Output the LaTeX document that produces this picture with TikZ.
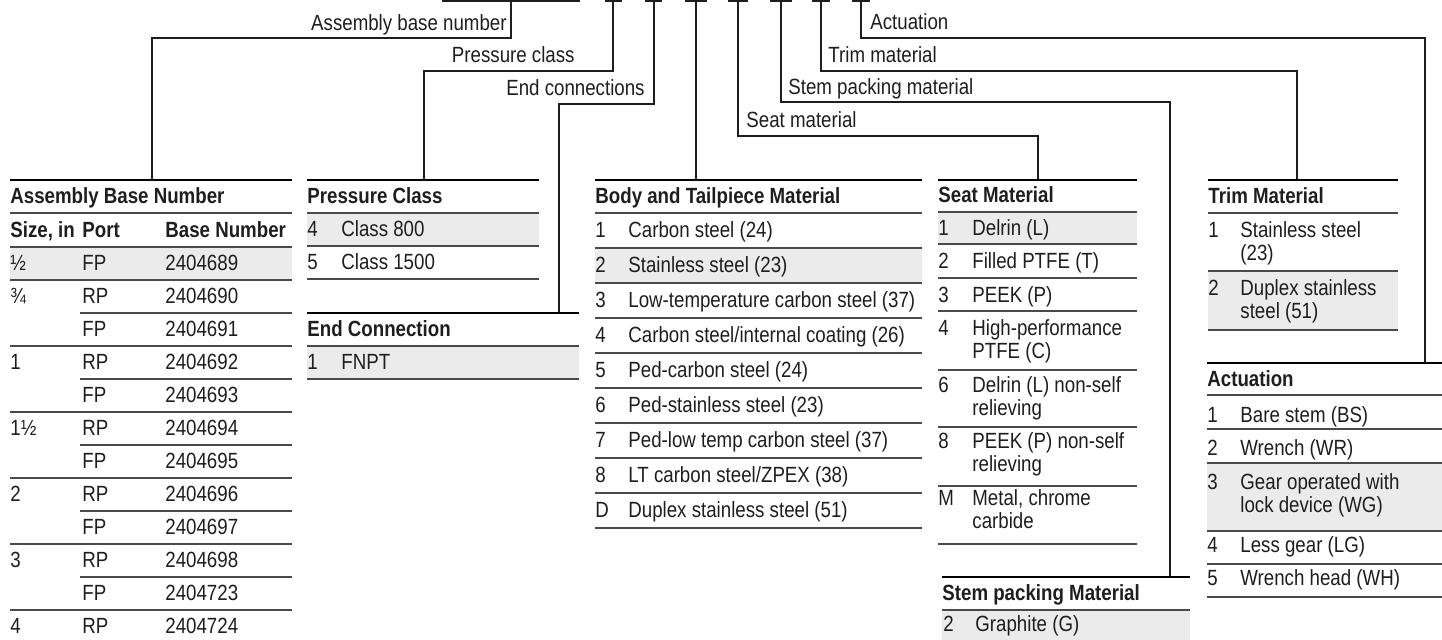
\documentclass[tikz,border=0pt]{standalone}
\usepackage{fontspec}
\setmainfont{Liberation Sans}[FakeStretch=0.85]
\usetikzlibrary{positioning}
\definecolor{rowshade}{HTML}{EBEBEB}
\definecolor{ink}{HTML}{1E1E1E}
\definecolor{rulegray}{HTML}{4A4A4A}
\tikzset{
  lead/.style={
    draw = ink,
    line width = 1pt,
  },
  toprule/.style={
    draw = black,
    line width = 1.2pt,
  },
  rowrule/.style={
    draw = rulegray,
    line width = 0.8pt,
  },
  shaded/.style={
    fill = rowshade,
  },
  every node/.style = {
    inner sep = 0pt,
    text = ink,
    font = \fontsize{11}{12}\selectfont
  },
  cell/.style={
    anchor = base west
  },
  hd/.style={
    anchor = base west,
    font = \fontsize{11}{12}\selectfont\bfseries
  },
}

\begin{document}
\begin{tikzpicture}[x=0.5pt,y=-0.5pt]
\useasboundingbox (0,0) rectangle (1442,640);

% code stubs along the top
\foreach \a/\b in {442/580,605/622,645/662,685/707,728/748,770/792,812/830,852/870}
  \draw[lead] (\a,1) -- (\b,1);
\coordinate (c-base) at (511,1);
\coordinate (c-pc) at (613,1);
\coordinate (c-ec) at (654,1);
\coordinate (c-body) at (696,1);
\coordinate (c-seat) at (738,1);
\coordinate (c-stem) at (781,1);
\coordinate (c-trim) at (821,1);
\coordinate (c-act) at (861,1);

% where the leads land on the tables
\coordinate (t-asm) at (152,180);
\coordinate (t-pc) at (424,180);
\coordinate (t-ec) at (559,313);
\coordinate (t-body) at (696,180);
\coordinate (t-seat) at (1038,180);
\coordinate (t-stem) at (1170,577);
\coordinate (t-trim) at (1297,180);
\coordinate (t-act) at (1425,363);

\draw[lead] (c-base) -- ++(0,37) -| (t-asm);
\draw[lead] (c-pc) -- ++(0,70) -| (t-pc);
\draw[lead] (c-ec) -- ++(0,103) -| (t-ec);
\draw[lead] (c-body) -- (t-body);
\draw[lead] (c-seat) -- ++(0,135) -| (t-seat);
\draw[lead] (c-stem) -- ++(0,101) -| (t-stem);
\draw[lead] (c-trim) -- ++(0,70) -| (t-trim);
\draw[lead] (c-act) -- ++(0,37) -| (t-act);

\node[anchor=base east] (l-base) at (507,31) {Assembly base number};
\node[anchor=base east] (l-pc) at (575,63) {Pressure class};
\node[anchor=base east] (l-ec) at (645,96) {End connections};
\node[anchor=base west] (l-seat) at (746,128) {Seat material};
\node[anchor=base west] (l-stem) at (788,95) {Stem packing material};
\node[anchor=base west] (l-trim) at (828,63) {Trim material};
\node[anchor=base west] (l-act) at (870,30) {Actuation};

% assembly base number
\fill[shaded] (10,247) rectangle (292,280);
\draw[toprule] (10,180) -- (292,180);
\node[hd] (asm-title) at (10,204) {Assembly Base Number};
\draw[rowrule] (10,213) -- (292,213);
\node[hd] (asm-size) at (10,238) {Size, in};
\node[hd] (asm-port) at (82,238) {Port};
\node[hd] (asm-base) at (165,238) {Base Number};
\draw[rowrule] (10,247) -- (292,247);
\foreach \y/\l in {280/10,313/80,346/10,379/80,412/10,445/80,478/10,511/80,544/10,577/80,610/10}
  \draw[rowrule] (\l,\y) -- (292,\y);
\foreach \i/\s/\p/\n in {0/½/FP/2404689,1/¾/RP/2404690,2//FP/2404691,3/1/RP/2404692,
    4//FP/2404693,5/1½/RP/2404694,6//FP/2404695,7/2/RP/2404696,8//FP/2404697,
    9/3/RP/2404698,10//FP/2404723,11/4/RP/2404724}{
  \node[cell] (asm-s\i) at (10,271+33*\i) {\s};
  \node[cell] (asm-p\i) at (82,271+33*\i) {\p};
  \node[cell] (asm-n\i) at (165,271+33*\i) {\n};
}

% pressure class and end connection
\fill[shaded] (307,213) rectangle (539,246);
\draw[toprule] (307,180) -- (539,180);
\node[hd] (pc-title) at (307,204) {Pressure Class};
\foreach \y in {213,246,279}
  \draw[rowrule] (307,\y) -- (539,\y);
\node[cell] (pc-k4) at (307,237) {4};
\node[cell] (pc-t4) at (341,237) {Class 800};
\node[cell] (pc-k5) at (307,270) {5};
\node[cell] (pc-t5) at (341,270) {Class 1500};

\fill[shaded] (307,346) rectangle (579,379);
\draw[toprule] (307,313) -- (579,313);
\node[hd] (ec-title) at (307,337) {End Connection};
\foreach \y in {346,379}
  \draw[rowrule] (307,\y) -- (579,\y);
\node[cell] (ec-k1) at (307,370) {1};
\node[cell] (ec-t1) at (341,370) {FNPT};

% body and tailpiece
\fill[shaded] (595,248) rectangle (922,283);
\draw[toprule] (595,180) -- (922,180);
\node[hd] (body-title) at (595,204) {Body and Tailpiece Material};
\foreach \i/\k/\t in {0/1/Carbon steel (24),1/2/Stainless steel (23),
    2/3/Low-temperature carbon steel (37),3/4/{Carbon steel/internal coating (26)},
    4/5/Ped-carbon steel (24),5/6/Ped-stainless steel (23),
    6/7/Ped-low temp carbon steel (37),7/8/{LT carbon steel/ZPEX (38)},
    8/D/Duplex stainless steel (51)}{
  \draw[rowrule] (595,213+35*\i) -- (922,213+35*\i);
  \node[cell] (body-k\i) at (595,238+35*\i) {\k};
  \node[cell] (body-t\i) at (628,238+35*\i) {\t};
}
\draw[rowrule] (595,528) -- (922,528);

% seat material
\fill[shaded] (938,212) rectangle (1137,244);
\draw[toprule] (938,180) -- (1137,180);
\node[hd] (seat-title) at (938,203) {Seat Material};
\foreach \y in {212,244,278,311,370,427,486,544}
  \draw[rowrule] (938,\y) -- (1137,\y);
\foreach \y/\k/\t in {236/1/Delrin (L),269/2/Filled PTFE (T),303/3/PEEK (P),
    336/4/High-performance,393/6/Delrin (L) non-self,449/8/PEEK (P) non-self,
    506/M/{Metal, chrome}}{
  \node[cell] (seat-k\k) at (938,\y) {\k};
  \node[cell] (seat-t\k) at (972,\y) {\t};
}
\foreach \y/\k/\t in {359/4/PTFE (C),416/6/relieving,472/8/relieving,529/M/carbide}
  \node[cell] (seat-u\k) at (972,\y) {\t};

% stem packing
\fill[shaded] (942,610) rectangle (1190,643);
\draw[toprule] (942,577) -- (1190,577);
\node[hd] (stem-title) at (942,601) {Stem packing Material};
\draw[rowrule] (942,610) -- (1190,610);
\node[cell] (stem-k2) at (943,632) {2};
\node[cell] (stem-t2) at (975,632) {Graphite (G)};

% trim material
\fill[shaded] (1208,271) rectangle (1398,330);
\draw[toprule] (1208,180) -- (1398,180);
\node[hd] (trim-title) at (1208,204) {Trim Material};
\foreach \y in {213,271,330}
  \draw[rowrule] (1208,\y) -- (1398,\y);
\node[cell] (trim-k1) at (1208,238) {1};
\node[cell] (trim-t1) at (1240,238) {Stainless steel};
\node[cell] (trim-u1) at (1240,261) {(23)};
\node[cell] (trim-k2) at (1208,296) {2};
\node[cell] (trim-t2) at (1240,296) {Duplex stainless};
\node[cell] (trim-u2) at (1240,319) {steel (51)};

% actuation
\fill[shaded] (1207,463) rectangle (1442,531);
\draw[toprule] (1207,363) -- (1442,363);
\node[hd] (act-title) at (1207,387) {Actuation};
\foreach \y in {395,429,463,531,564,597}
  \draw[rowrule] (1207,\y) -- (1442,\y);
\foreach \y/\k/\t in {423/1/Bare stem (BS),456/2/Wrench (WR),490/3/Gear operated with,
    553/4/Less gear (LG),586/5/Wrench head (WH)}{
  \node[cell] (act-k\k) at (1207,\y) {\k};
  \node[cell] (act-t\k) at (1240,\y) {\t};
}
\node[cell] (act-u3) at (1240,513) {lock device (WG)};
\end{tikzpicture}
\end{document}
